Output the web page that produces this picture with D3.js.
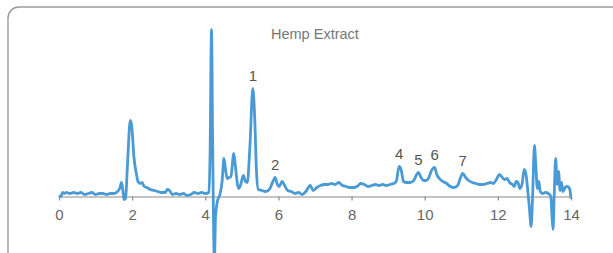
<!DOCTYPE html>
<html>
<head>
<meta charset="utf-8">
<script src="https://cdn.jsdelivr.net/npm/d3@7"></script>
<style>
  body { margin: 0; background: #fff; }
  svg { display: block; font-family: "Liberation Sans", Arial, sans-serif; }
</style>
</head>
<body>
<svg id="chart" width="613" height="253"></svg>
<script>
// retention time (min) and detector signal
const times = [
  0.00, 0.05, 0.10, 0.15, 0.20, 0.30, 0.40, 0.50, 0.60, 0.70, 0.80, 0.90, 1.00, 1.10, 1.20, 1.30, 1.40, 1.50,
  1.60, 1.66, 1.71, 1.75, 1.78, 1.82, 1.87, 1.95, 1.99, 2.05, 2.12, 2.16, 2.22, 2.27, 2.33, 2.40, 2.50, 2.60,
  2.70, 2.80, 2.90, 2.97, 3.02, 3.10, 3.20, 3.30, 3.40, 3.50, 3.60, 3.70, 3.80, 3.90, 4.00, 4.10, 4.13, 4.17,
  4.20, 4.23, 4.25, 4.28, 4.33, 4.40, 4.46, 4.51, 4.55, 4.60, 4.65, 4.70, 4.78, 4.83, 4.88, 4.92, 4.97, 5.04,
  5.10, 5.15, 5.22, 5.30, 5.35, 5.40, 5.45, 5.55, 5.65, 5.75, 5.85, 5.91, 5.97, 6.02, 6.10, 6.17, 6.25, 6.35,
  6.45, 6.55, 6.65, 6.75, 6.87, 6.95, 7.05, 7.15, 7.25, 7.35, 7.45, 7.55, 7.65, 7.75, 7.85, 7.95, 8.05, 8.15,
  8.25, 8.35, 8.45, 8.55, 8.65, 8.75, 8.85, 8.95, 9.05, 9.15, 9.22, 9.30, 9.36, 9.42, 9.50, 9.60, 9.70, 9.78,
  9.83, 9.90, 9.97, 10.03, 10.10, 10.20, 10.27, 10.33, 10.40, 10.50, 10.60, 10.70, 10.80, 10.90, 10.97, 11.04,
  11.12, 11.20, 11.30, 11.40, 11.50, 11.60, 11.70, 11.80, 11.88, 11.96, 12.04, 12.10, 12.18, 12.25, 12.32, 12.40,
  12.45, 12.50, 12.55, 12.60, 12.66, 12.72, 12.77, 12.82, 12.86, 12.91, 12.95, 13.00, 13.04, 13.08, 13.12, 13.16,
  13.22, 13.30, 13.38, 13.45, 13.48, 13.51, 13.54, 13.58, 13.62, 13.66, 13.70, 13.74, 13.78, 13.84, 13.90, 13.96,
  14.00
];
const signal = [
  1, 0, 4, 3, 4, 3, 4, 3, 4, 2, 3, 4, 2, 3, 3, 2, 3, 3,
  5, 8, 14, 5, -3, -2, 30, 76, 70, 39, 22, 15, 13, 14, 10, 9, 7, 6,
  5, 4, 4, 7, 6, 2, 3, 2, 3, 1, 2, 4, 3, 4, 3, 4, 40, 167,
  60, -40, -65, -20, -5, 2, 15, 38, 28, 18, 19, 20, 43, 28, 12, 8, 12, 21,
  15, 14, 50, 108, 80, 25, 7, 6, 5, 7, 15, 19, 12, 10, 15, 11, 6, 5,
  3, 4, 2, 5, 11, 6, 9, 11, 12, 12, 13, 12, 14, 11, 10, 9, 9, 10,
  13, 12, 10, 11, 12, 11, 12, 11, 12, 13, 15, 30, 26, 15, 14, 14, 16, 22,
  24, 19, 16, 16, 18, 27, 29, 22, 18, 15, 13, 10, 9, 11, 18, 23,
  19, 16, 14, 13, 12, 12, 13, 14, 13, 17, 22, 20, 17, 18, 14, 12,
  10, 15, 14, 8, 12, 27, 22, 5, -10, -30, 0, 51, 30, 8, 15, 5,
  3, 4, 3, 0, -20, -33, 0, 38, 12, 25, 6, 14, 5, 9, 10, 8,
  -2
];
const xTicks = [0, 2, 4, 6, 8, 10, 12, 14];
const peakNames = ["1", "2", "4", "5", "6", "7"];
const peakTimes = [5.30, 5.91, 9.30, 9.83, 10.27, 11.04];
const title = "Hemp Extract";

const svg = d3.select("#chart");

// panel frame (runs off the right and bottom edges)
svg.append("rect")
  .attr("x", 8).attr("y", 7)
  .attr("width", 640).attr("height", 260)
  .attr("rx", 11)
  .attr("fill", "none")
  .attr("stroke", "#9a9a9a")
  .attr("stroke-width", 1.4);

const x = d3.scaleLinear().domain([0, 14]).range([59, 571]);
const y = d3.scaleLinear().domain([0, 100]).range([196.5, 96.5]);

svg.append("text")
  .attr("x", 271).attr("y", 39)
  .attr("fill", "#777")
  .attr("font-size", 14.5)
  .text(title);

const axis = svg.append("g")
  .attr("transform", `translate(0,${y(0)})`)
  .call(d3.axisBottom(x).tickValues(xTicks).tickSize(4).tickSizeOuter(0).tickPadding(9));
axis.select(".domain").attr("stroke", "#8a8a8a").attr("stroke-width", 1.2);
axis.selectAll(".tick line").attr("stroke", "#8a8a8a").attr("stroke-width", 1.2);
axis.selectAll(".tick text").attr("fill", "#666").attr("font-size", 15).attr("font-family", "Liberation Sans, Arial, sans-serif");

const points = times.map((t, i) => [t, signal[i]]);

const line = d3.line()
  .x(d => x(d[0]))
  .y(d => y(d[1]))
  .curve(d3.curveMonotoneX);

svg.append("path")
  .datum(points)
  .attr("d", line)
  .attr("fill", "none")
  .attr("stroke", "#4a9bd5")
  .attr("stroke-width", 2.8)
  .attr("stroke-linejoin", "round");

// peak numbers sit just above the local maximum
peakNames.forEach((name, i) => {
  const near = points.filter(p => Math.abs(p[0] - peakTimes[i]) < 0.08);
  const top = d3.max(near, p => p[1]);
  svg.append("text")
    .attr("x", x(peakTimes[i]))
    .attr("y", y(top) - 8)
    .attr("text-anchor", "middle")
    .attr("fill", "#555")
    .attr("font-size", 15)
    .text(name);
});
</script>
</body>
</html>
